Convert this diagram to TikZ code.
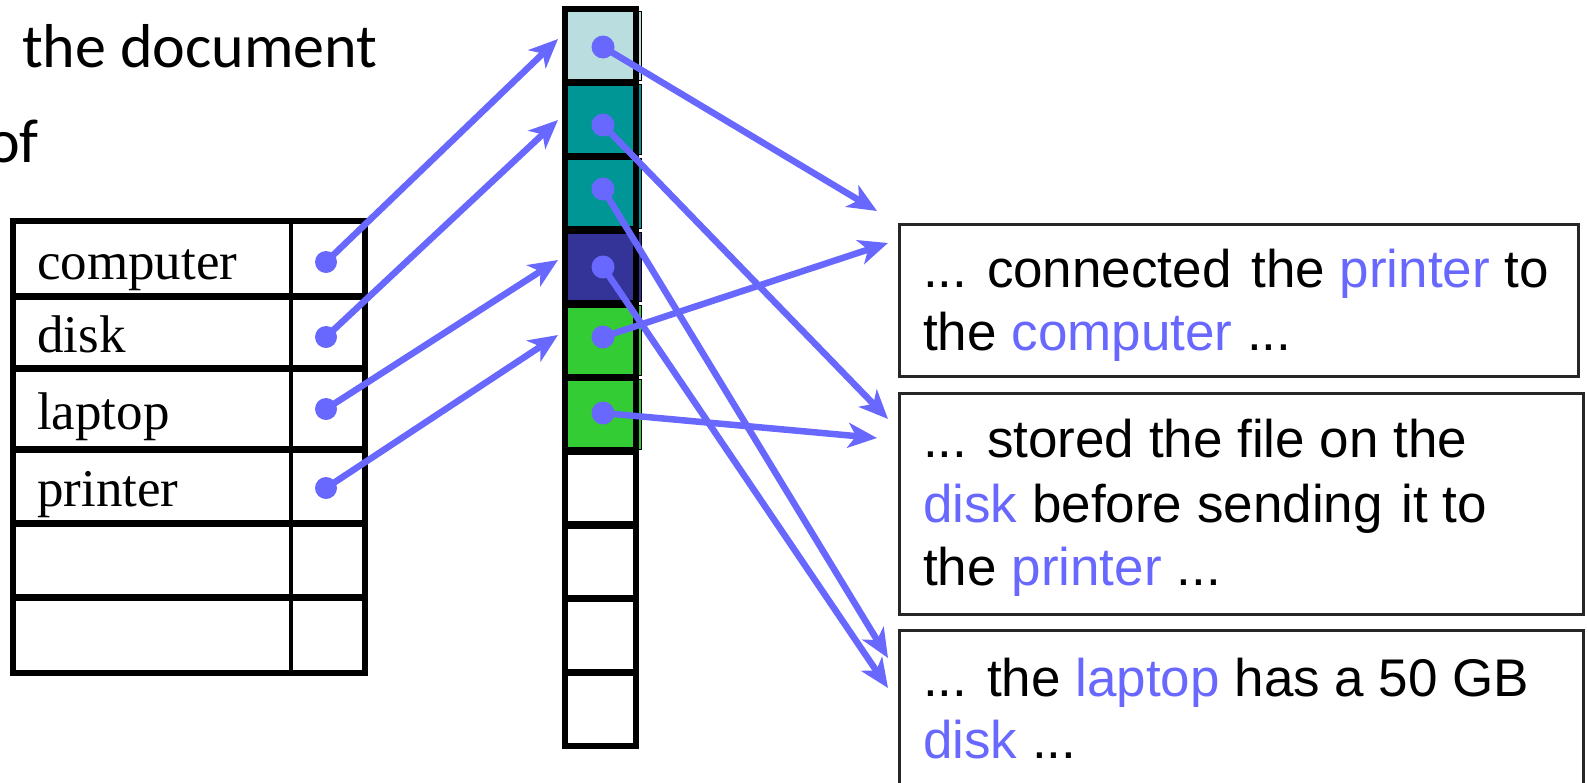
\documentclass[tikz,border=0pt]{standalone}
\usepackage{fontspec}
\setmainfont{Liberation Sans}
\newfontfamily\slidefont{Carlito}
\newfontfamily\tablefont{Liberation Serif}
\usetikzlibrary{arrows.meta}

\definecolor{ptr}{RGB}{104,104,255}
\definecolor{cellpale}{RGB}{186,222,224}
\definecolor{cellteal}{RGB}{0,150,150}
\definecolor{cellnavy}{RGB}{52,52,152}
\definecolor{cellgreen}{RGB}{52,204,52}

\tikzset{
  ptrarrow/.style={draw=ptr, line width=6.5pt,
    -{Stealth[length=29pt,width=25pt,inset=8pt]}},
  ptrdot/.style={circle, fill=ptr, inner sep=0pt, minimum size=23pt},
  slotcell/.style={rectangle, inner sep=0pt, minimum width=71pt, minimum height=73.7pt, draw=none},
  textbox/.style={rectangle, draw=black!85, line width=2.5pt, inner sep=0pt, anchor=north west},
  boxline/.style={anchor=base west, inner sep=0pt, font=\fontsize{53pt}{63pt}\selectfont},
  termlabel/.style={anchor=base west, inner sep=0pt, font=\tablefont\fontsize{53pt}{60pt}\selectfont}
}
\newcommand{\kw}[1]{\textcolor{ptr}{#1}}

\begin{document}
\begin{tikzpicture}[x=1pt,y=-1pt]
\useasboundingbox (0,0) rectangle (1588,782);
\clip (0,0) rectangle (1588,782);

% heading text, partly cut by the page edge
\node[anchor=base west, inner sep=0pt, font=\slidefont\fontsize{62pt}{70pt}\selectfont] (head1) at (22,67) {the document};
\node[anchor=base west, inner sep=0pt, font=\slidefont\fontsize{62pt}{70pt}\selectfont] (head2) at (-13,162) {of};

% ---- term table ----
\draw[line width=6pt] (13,221) rectangle (365,673);
\foreach \y in {296,368,449,523,597} \draw[line width=7pt] (13,\y) -- (365,\y);
\draw[line width=3.5pt] (291,221) -- (291,673);
\node[termlabel] (tComputer) at (37,279) {computer};
\node[termlabel] (tDisk) at (37,352) {disk};
\node[termlabel] (tLaptop) at (37,429) {laptop};
\node[termlabel] (tPrinter) at (37,506) {printer};

% ---- posting slots ----
% offset strips to the right of the filled slots
\foreach \i/\c in {1/cellpale,2/cellteal,3/cellteal,4/cellnavy,5/cellgreen,6/cellgreen}{
  \pgfmathsetmacro{\top}{9+(\i-1)*73.7+2}
  \pgfmathsetmacro{\bot}{9+\i*73.7-2}
  \draw[line width=1pt, fill=\c] (600,\top) rectangle (641,\bot);
}
\foreach \i/\c in {1/cellpale,2/cellteal,3/cellteal,4/cellnavy,5/cellgreen,6/cellgreen,7/white,8/white,9/white,10/white}{
  \node[slotcell, fill=\c] (c\i) at (600.5, {9+(\i-0.5)*73.7}) {};
}
\draw[line width=5.5pt] (565,9) rectangle (636,746);
\foreach \k in {1,...,9} \draw[line width=7.5pt] (565,{9+\k*73.7}) -- (636,{9+\k*73.7});

% ---- documents ----
\node[textbox, minimum width=679pt, minimum height=152pt] (box1) at (898,223) {};
\node[textbox, minimum width=684pt, minimum height=221pt] (box2) at (898,392) {};
\node[textbox, minimum width=684pt, minimum height=190pt] (box3) at (898,629) {};

\node[boxline] (b1a) at (923,287) {... connected\hspace{5pt} the \kw{printer} to};
\node[boxline] (b1b) at (923,350) {the \kw{computer} ...};
\node[boxline] (b2a) at (923,457) {... stored the file on the};
\node[boxline] (b2b) at (923,522) {\kw{disk} before sending\hspace{4pt} it to};
\node[boxline] (b2c) at (923,585) {the \kw{printer} ...};
\node[boxline] (b3a) at (923,696) {... the \kw{laptop} has a 50 GB};
\node[boxline] (b3b) at (923,758) {\kw{disk} ...};

% ---- pointer dots ----
\node[ptrdot, minimum size=22pt] (pComputer) at (326,262) {};
\node[ptrdot, minimum size=22pt] (pDisk) at (326,337) {};
\node[ptrdot, minimum size=22pt] (pLaptop) at (326,409) {};
\node[ptrdot, minimum size=22pt] (pPrinter) at (326,488) {};

\node[ptrdot] (s1) at (603,47) {};
\node[ptrdot] (s2) at (603,125) {};
\node[ptrdot] (s3) at (603,189) {};
\node[ptrdot] (s4) at (603,267) {};
\node[ptrdot] (s5) at (603,337) {};
\node[ptrdot] (s6) at (603,413) {};

% arrow ends
\coordinate (e1) at (558,39);
\coordinate (e2) at (558,120);
\coordinate (e3) at (558,260);
\coordinate (e4) at (558,335);

\coordinate (r1) at (877,211);
\coordinate (r2) at (888,419);
\coordinate (r3) at (888,658);
\coordinate (r4) at (888,688);
\coordinate (r5) at (888,243);
\coordinate (r6) at (877,438);

% term -> first slot
\draw[ptrarrow] (pComputer.center) -- (e1);
\draw[ptrarrow] (pDisk.center) -- (e2);
\draw[ptrarrow] (pLaptop.center) -- (e3);
\draw[ptrarrow] (pPrinter.center) -- (e4);

% slot -> document
\draw[ptrarrow] (s1.center) -- (r1);
\draw[ptrarrow] (s2.center) -- (r2);
\draw[ptrarrow] (s3.center) -- (r3);
\draw[ptrarrow] (s4.center) -- (r4);
\draw[ptrarrow] (s5.center) -- (r5);
\draw[ptrarrow] (s6.center) -- (r6);
\end{tikzpicture}
\end{document}
